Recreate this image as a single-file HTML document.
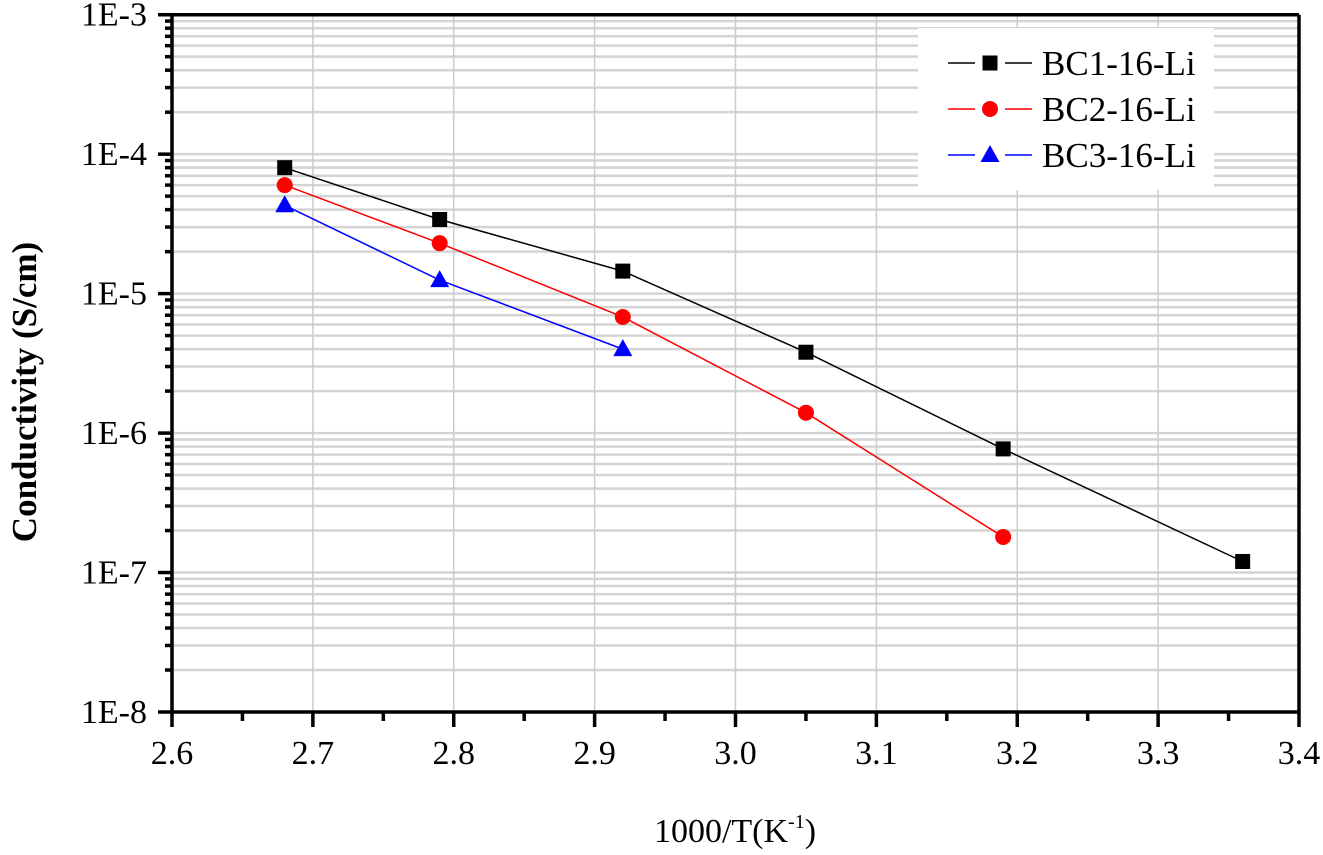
<!DOCTYPE html>
<html><head><meta charset="utf-8"><style>
body{margin:0;background:#fff;}
svg{display:block;font-family:"Liberation Serif",serif;}
</style></head><body>
<svg id="chart" width="1323" height="855" viewBox="0 0 1323 855" xmlns="http://www.w3.org/2000/svg"></svg>
<script>
const xTicks=[2.6,2.7,2.8,2.9,3.0,3.1,3.2,3.3,3.4];
const xTickLabels=["2.6","2.7","2.8","2.9","3.0","3.1","3.2","3.3","3.4"];
const yDecades=[-8,-7,-6,-5,-4,-3];
const yTickLabels=["1E-8","1E-7","1E-6","1E-5","1E-4","1E-3"];
const bc1X=[2.68,2.79,2.92,3.05,3.19,3.36];
const bc1Y=[8e-5,3.4e-5,1.45e-5,3.8e-6,7.7e-7,1.2e-7];
const bc2X=[2.68,2.79,2.92,3.05,3.19];
const bc2Y=[6e-5,2.3e-5,6.8e-6,1.4e-6,1.8e-7];
const bc3X=[2.68,2.79,2.92];
const bc3Y=[4.3e-5,1.25e-5,4e-6];
const seriesNames=["BC1-16-Li","BC2-16-Li","BC3-16-Li"];

const L=172,R=1299,T=14.7,B=712;
const NS="http://www.w3.org/2000/svg";
const svg=document.getElementById('chart');
const xs=v=>L+(v-2.6)/0.8*(R-L);
const ys=v=>B-(Math.log10(v)+8)/5*(B-T);
function mk(tag,attrs,parent){const e=document.createElementNS(NS,tag);for(const k in attrs)e.setAttribute(k,attrs[k]);(parent||svg).appendChild(e);return e;}

const grid=mk('g',{});


for(let d=-8;d<-3;d++){for(let m=1;m<10;m++){const y=ys(m*Math.pow(10,d));if(m>1||d>-8){mk('line',{x1:L,x2:R,y1:y,y2:y,stroke:'#d4d4d4','stroke-width':2.5},grid);}}}
xTicks.forEach((v,i)=>{if(i>0&&i<xTicks.length-1){const x=xs(v);mk('line',{x1:x,x2:x,y1:T,y2:B,stroke:'#cccccc','stroke-width':1.5},grid);}});

const lg=mk('g',{});


mk('rect',{x:918,y:28,width:296,height:162,fill:'#fff'},lg);

const ax=mk('g',{stroke:'#000','stroke-width':3.5,fill:'none'});


mk('line',{x1:L,x2:R,y1:B,y2:B},ax);
mk('line',{x1:L,x2:L,y1:T,y2:B},ax);
mk('line',{x1:L-14,x2:R,y1:T,y2:T},ax);
mk('line',{x1:R,x2:R,y1:T,y2:B},ax);
xTicks.forEach((v,i)=>{const x=xs(v);mk('line',{x1:x,x2:x,y1:B,y2:B+15},ax);if(i<xTicks.length-1)mk('line',{x1:xs(v+0.05),x2:xs(v+0.05),y1:B,y2:B+9},ax);});
yDecades.forEach(d=>{const y=ys(Math.pow(10,d));mk('line',{x1:L-14,x2:L,y1:y,y2:y},ax);if(d<-3)for(let m=2;m<10;m++){const yy=ys(m*Math.pow(10,d));mk('line',{x1:L-7,x2:L,y1:yy,y2:yy},ax);}});

xTicks.forEach((v,i)=>{const t=mk('text',{x:xs(v),y:B+52,'font-size':34,'text-anchor':'middle'});t.textContent=xTickLabels[i];});
yDecades.forEach((d,i)=>{const t=mk('text',{x:L-25,y:ys(Math.pow(10,d))+11,'font-size':34,'text-anchor':'end'});t.textContent=yTickLabels[i];});

const yt=mk('text',{x:0,y:0,'font-size':35,'font-weight':'bold','text-anchor':'middle',transform:'translate(36,392) rotate(-90)'});
yt.textContent='Conductivity (S/cm)';


const xt=mk('text',{x:735,y:842,'font-size':34,'text-anchor':'middle'});
xt.innerHTML='1000/T(K<tspan font-size="20" dy="-14">-1</tspan><tspan dy="14">)</tspan>';



function marker(g,type,x,y,color){
 if(type==='square')mk('rect',{x:x-7.5,y:y-7.5,width:15,height:15,fill:color},g);
 else if(type==='circle')mk('circle',{cx:x,cy:y,r:8,fill:color},g);
 else mk('polygon',{points:`${x},${y-10} ${x-9.5},${y+7} ${x+9.5},${y+7}`,fill:color},g);
}
const series=[[bc1X,bc1Y,'#000','square'],[bc2X,bc2Y,'#ff0000','circle'],[bc3X,bc3Y,'#0000ff','triangle']];
series.forEach((s,i)=>{
 const g=mk('g',{});
 
 
 mk('polyline',{points:s[0].map((x,j)=>xs(x)+','+ys(s[1][j])).join(' '),fill:'none',stroke:s[2],'stroke-width':1.5},g);
 s[0].forEach((x,j)=>marker(g,s[3],xs(x),ys(s[1][j]),s[2]));
 const ly=63+i*46;
 const e=mk('g',{},lg);
 
 
 mk('line',{x1:948,x2:975,y1:ly,y2:ly,stroke:s[2],'stroke-width':1.5},e);
 mk('line',{x1:1005,x2:1032,y1:ly,y2:ly,stroke:s[2],'stroke-width':1.5},e);
 marker(e,s[3],990,ly,s[2]);
 const t=mk('text',{x:1042,y:ly+12,'font-size':35},e);t.textContent=seriesNames[i];
});
</script>
</body></html>
